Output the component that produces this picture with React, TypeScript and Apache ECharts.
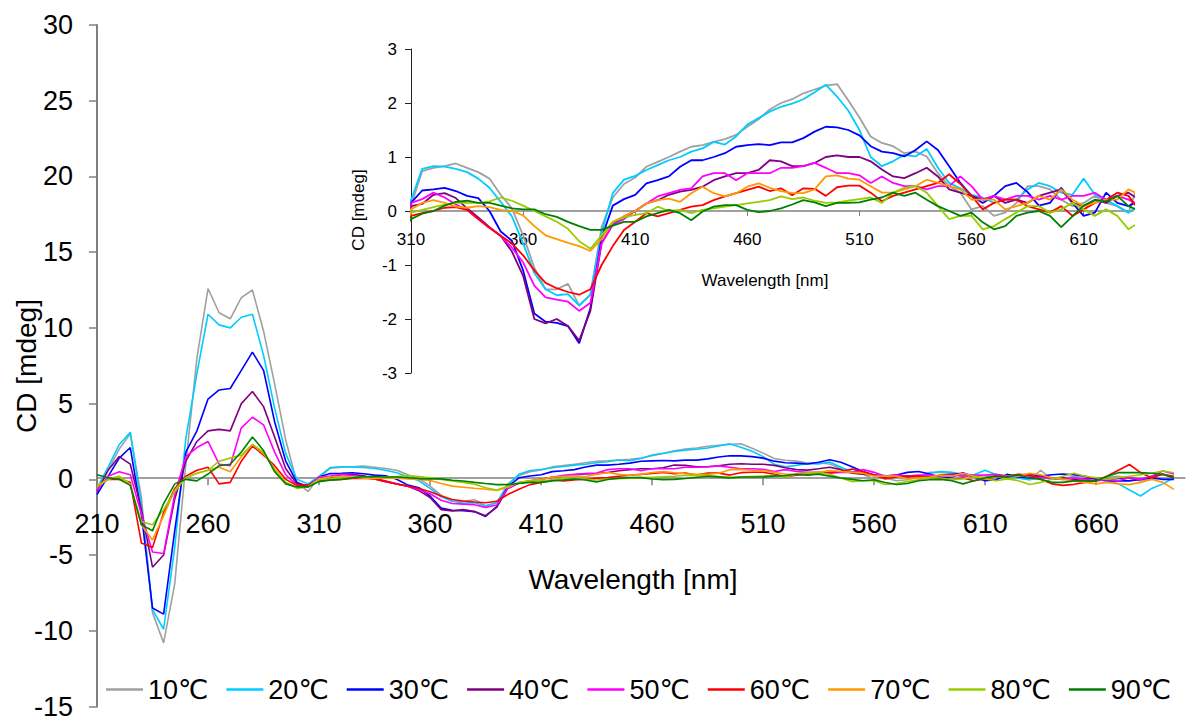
import { useEffect, useRef } from "react";
import * as echarts from "echarts";

const WAVELENGTHS = [
  210, 215, 220, 225, 230, 235, 240, 245, 250, 255, 260, 265, 270, 275, 280, 285, 290, 295, 300, 305,
  310, 315, 320, 325, 330, 335, 340, 345, 350, 355, 360, 365, 370, 375, 380, 385, 390, 395, 400, 405,
  410, 415, 420, 425, 430, 435, 440, 445, 450, 455, 460, 465, 470, 475, 480, 485, 490, 495, 500, 505,
  510, 515, 520, 525, 530, 535, 540, 545, 550, 555, 560, 565, 570, 575, 580, 585, 590, 595, 600, 605,
  610, 615, 620, 625, 630,
  635, 640, 645, 650, 655, 660, 665, 670, 675, 680, 685, 690, 695,
];

const NAMES = ["10℃", "20℃", "30℃", "40℃", "50℃", "60℃", "70℃", "80℃", "90℃"];
const COLORS = ["#A0A0A0", "#00CCFF", "#0000FF", "#800080", "#FF00FF", "#FF0000", "#FF9900", "#99CC00", "#008000"];

const MAIN_X_TICKS = [210, 260, 310, 360, 410, 460, 510, 560, 610, 660];
const INSET_X_TICKS = [310, 360, 410, 460, 510, 560, 610];

const CD_10 = [
  -0.8, 0.6, 2.0, 3.0, -1.2, -8.8, -10.8, -6.9, 1.0, 8.0, 12.6, 11.0, 10.6, 12.0, 12.5, 9.8, 6.3, 2.6, -0.2, -0.8,
  0.1, 0.74, 0.8, 0.83, 0.88, 0.8, 0.72, 0.6, 0.3, 0.05, -0.45, -1.05, -1.45, -1.45, -1.35, -1.75, -1.55, -0.3, 0.25, 0.5,
  0.62, 0.82, 0.91, 1.0, 1.1, 1.19, 1.22, 1.28, 1.33, 1.41, 1.56, 1.7, 1.88, 2.0, 2.07, 2.18, 2.25, 2.32, 2.35, 2.05,
  1.73, 1.38, 1.26, 1.2, 1.07, 1.1, 1.01, 0.7, 0.46, 0.34, 0.03, 0.09, -0.09, -0.03, 0.15, 0.46, 0.46, 0.4, 0.21, 0.09,
  0.15, 0.28, 0.15, 0.09, -0.03,
  0.6, 0.0, 0.05, 0.2, 0.1, 0.0, 0.15, 0.2, 0.05, -0.1, 0.0, 0.1, 0.0,
];
const CD_20 = [
  -0.6, 0.8, 2.3, 3.1, -1.7, -8.6, -9.9, -4.5, 2.7, 7.0, 10.9, 10.2, 10.0, 10.7, 10.9, 8.2, 4.7, 1.7, 0.0, -0.3,
  0.2, 0.78, 0.83, 0.82, 0.78, 0.72, 0.6, 0.43, 0.17, -0.1, -0.6, -1.15, -1.45, -1.56, -1.54, -1.75, -1.55, -0.4, 0.33, 0.58,
  0.65, 0.76, 0.85, 0.94, 1.0, 1.1, 1.16, 1.28, 1.23, 1.38, 1.6, 1.72, 1.84, 1.93, 1.99, 2.07, 2.2, 2.34, 2.12, 1.86,
  1.5, 1.0, 0.83, 0.92, 1.04, 1.01, 1.15, 0.8, 0.52, 0.42, 0.3, 0.25, 0.15, 0.21, 0.21, 0.4, 0.52, 0.46, 0.34, 0.3,
  0.6, 0.3, 0.21, 0.09, -0.03,
  0.1, 0.05, 0.0, 0.1, 0.0, 0.05, 0.0, -0.3, -0.7, -1.1, -0.6, -0.3, 0.1,
];
const CD_30 = [
  -1.0, 0.2, 1.4, 2.1, -2.3, -8.5, -8.9, -3.4, 1.8, 3.2, 5.3, 5.9, 6.0, 7.2, 8.4, 7.2, 3.8, 1.2, -0.2, -0.5,
  0.15, 0.38, 0.4, 0.43, 0.37, 0.28, 0.24, 0.0, -0.38, -0.55, -1.1, -1.9, -2.05, -2.07, -2.13, -2.45, -1.8, -0.5, 0.1, 0.22,
  0.3, 0.51, 0.57, 0.64, 0.82, 0.94, 0.94, 1.0, 1.07, 1.19, 1.22, 1.24, 1.22, 1.27, 1.27, 1.35, 1.47, 1.56, 1.55, 1.5,
  1.4, 1.2, 1.1, 1.07, 1.01, 1.13, 1.29, 1.13, 0.83, 0.52, 0.28, 0.15, 0.28, 0.46, 0.52, 0.35, 0.1, 0.15, 0.43, 0.15,
  -0.09, -0.03, 0.34, 0.15, 0.09,
  0.2, 0.3, 0.35, 0.3, 0.2, 0.0, -0.1, -0.1, -0.1, 0.0, 0.1, 0.0, 0.0,
];
const CD_40 = [
  -0.8, 0.6, 1.5, 1.0, -2.0, -5.8, -5.0, -1.3, 1.2, 2.5, 3.2, 3.3, 3.2, 5.0, 5.8, 4.8, 2.8, 0.7, -0.3, -0.4,
  0.09, 0.13, 0.3, 0.33, 0.24, 0.05, -0.12, -0.3, -0.46, -0.75, -1.2, -2.0, -2.08, -2.0, -2.13, -2.4, -1.85, -0.6, -0.25, -0.1,
  0.0, 0.14, 0.2, 0.3, 0.36, 0.39, 0.45, 0.57, 0.64, 0.7, 0.7, 0.76, 0.94, 0.92, 0.83, 0.83, 0.89, 1.0, 1.03, 1.0,
  1.0, 0.92, 0.77, 0.64, 0.61, 0.7, 0.8, 0.64, 0.4, 0.34, 0.28, 0.21, 0.28, 0.15, 0.21, 0.15, 0.28, 0.34, 0.4, 0.15,
  0.09, 0.21, 0.15, 0.28, 0.34,
  0.2, 0.1, 0.1, 0.0, 0.05, 0.1, 0.0, 0.05, 0.1, 0.0, 0.2, 0.33, 0.1,
];
const CD_50 = [
  -0.7, 0.2, 0.5, 0.3, -2.3, -4.8, -4.9, -1.0, 1.5, 2.1, 2.5, 1.0, 0.9, 3.4, 4.1, 3.6, 1.8, 0.3, -0.4, -0.5,
  0.15, 0.22, 0.34, 0.25, 0.12, 0.02, -0.15, -0.31, -0.46, -0.68, -0.95, -1.38, -1.6, -1.64, -1.68, -1.85, -1.7, -0.6, -0.25, -0.15,
  0.0, 0.14, 0.27, 0.33, 0.39, 0.42, 0.64, 0.7, 0.7, 0.57, 0.7, 0.7, 0.7, 0.8, 0.8, 0.83, 0.89, 0.8, 0.7, 0.7,
  0.66, 0.52, 0.64, 0.52, 0.46, 0.46, 0.4, 0.46, 0.46, 0.64, 0.46, 0.21, 0.28, 0.21, 0.28, 0.28, 0.21, 0.28, 0.21, 0.28,
  0.28, 0.34, 0.21, 0.28, 0.21,
  0.1, 0.05, 0.0, 0.1, 0.0, -0.1, 0.0, -0.1, 0.1, 0.0, 0.2, 0.55, 0.35,
];
const CD_60 = [
  -0.5, 0.0, 0.0, -0.2, -4.2, -4.5, -2.2, -0.6, 0.2, 0.6, 0.8, -0.3, -0.2, 1.2, 2.2, 1.6, 0.9, 0.0, -0.4, -0.4,
  -0.09, -0.04, 0.0, 0.06, 0.07, 0.02, -0.15, -0.31, -0.46, -0.6, -0.82, -1.1, -1.33, -1.43, -1.5, -1.55, -1.45, -1.0, -0.65, -0.35,
  -0.2, -0.04, -0.1, -0.04, 0.02, 0.08, 0.11, 0.2, 0.27, 0.33, 0.39, 0.45, 0.37, 0.42, 0.29, 0.42, 0.41, 0.28, 0.44, 0.47,
  0.47, 0.34, 0.18, 0.28, 0.34, 0.4, 0.46, 0.52, 0.68, 0.5, 0.28, 0.03, 0.15, 0.21, 0.21, 0.09, 0.03, -0.03, 0.09, -0.09,
  0.03, 0.15, 0.21, 0.34, 0.28,
  0.0, -0.3, -0.4, -0.33, -0.2, -0.1, 0.22, 0.6, 0.98, 0.44, 0.11, 0.33, 0.2,
];
const CD_70 = [
  -0.5, 0.0, 0.2, -0.3, -3.0, -4.0, -2.4, -0.7, 0.1, 0.4, 0.6, 0.8, 0.5, 1.5, 2.3, 1.7, 0.7, -0.2, -0.5, -0.5,
  0.03, 0.15, 0.2, 0.15, 0.08, 0.06, 0.09, 0.07, 0.02, 0.0, -0.08, -0.28, -0.45, -0.52, -0.59, -0.65, -0.74, -0.52, -0.2, -0.1,
  0.0, 0.14, 0.2, 0.23, 0.17, 0.33, 0.45, 0.33, 0.27, 0.33, 0.45, 0.51, 0.43, 0.37, 0.33, 0.33, 0.4, 0.64, 0.66, 0.6,
  0.58, 0.46, 0.34, 0.34, 0.4, 0.46, 0.58, 0.52, 0.46, 0.4, 0.21, 0.21, 0.21, 0.03, 0.09, 0.15, 0.28, 0.21, 0.4, 0.21,
  0.09, 0.15, 0.21, 0.21, 0.4,
  0.3, 0.1, 0.0, -0.1, -0.2, -0.3, -0.2, -0.3, -0.35, -0.2, 0.0, -0.2, -0.66,
];
const CD_80 = [
  -0.4, 0.0, 0.2, -0.4, -2.8, -3.0, -2.0, -0.8, 0.1, 0.4, 0.6, 1.2, 1.4, 1.6, 2.3, 1.8, 0.6, -0.2, -0.6, -0.5,
  -0.03, 0.02, 0.07, 0.12, 0.15, 0.15, 0.15, 0.18, 0.25, 0.19, 0.1, 0.0, -0.1, -0.2, -0.33, -0.56, -0.7, -0.45, -0.2, -0.12,
  -0.07, -0.04, 0.08, 0.0, 0.02, -0.04, 0.02, 0.05, 0.08, 0.11, 0.14, 0.17, 0.2, 0.27, 0.22, 0.25, 0.19, 0.15, 0.16, 0.19,
  0.22, 0.25, 0.15, 0.34, 0.43, 0.46, 0.34, 0.09, -0.15, -0.09, -0.09, -0.34, -0.28, -0.15, -0.03, 0.09, 0.09, -0.03, 0.03, 0.15,
  0.03, -0.09, 0.03, -0.09, -0.34,
  -0.2, 0.0, 0.2, 0.4, 0.2, 0.1, 0.0, 0.1, 0.2, 0.3, 0.4, 0.55, 0.44,
];
const CD_90 = [
  0.3, 0.1, 0.0, -0.4, -3.0, -3.4, -1.6, -0.3, 0.0, -0.1, 0.35, 0.9, 1.0, 1.8, 2.8, 1.9, 0.5, -0.3, -0.5, -0.5,
  -0.15, -0.05, 0.0, 0.1, 0.17, 0.19, 0.15, 0.15, 0.1, 0.05, 0.03, 0.03, -0.06, -0.11, -0.2, -0.28, -0.35, -0.35, -0.27, -0.2,
  -0.2, -0.1, -0.04, 0.02, -0.04, -0.17, -0.01, 0.08, 0.11, 0.11, 0.02, -0.02, 0.0, 0.05, 0.12, 0.2, 0.16, 0.09, 0.15, 0.15,
  0.16, 0.21, 0.25, 0.34, 0.28, 0.34, 0.21, 0.09, 0.0, -0.09, -0.03, -0.21, -0.34, -0.28, -0.09, -0.03, 0.0, -0.09, -0.3, -0.1,
  0.1, 0.2, 0.18, 0.28, 0.09,
  0.0, -0.2, -0.2, -0.1, -0.1, -0.1, 0.2, 0.44, 0.44, 0.44, 0.4, 0.33, 0.11,
];

const SERIES_VALUES = [CD_10, CD_20, CD_30, CD_40, CD_50, CD_60, CD_70, CD_80, CD_90];

const FONT = "'Liberation Sans', Arial, 'DejaVu Sans', sans-serif";

// grid geometry (pixels)
const MAIN_GRID = { left: 97, top: 25, width: 1088, height: 685 };
const INSET_GRID = { left: 411, top: 49, width: 722, height: 324 };
const MAIN_Y = { min: -15, max: 30 };
const INSET_Y = { min: -3, max: 3 };

export default function App() {
  const ref = useRef<HTMLDivElement>(null);

  useEffect(() => {
    if (!ref.current) return;
    const chart = echarts.init(ref.current, null, { renderer: "svg" });

    // distance from the grid's bottom edge up to the y = 0 line, so the x axes sit on zero
    const mainZeroOffset = -(MAIN_GRID.height * (0 - MAIN_Y.min)) / (MAIN_Y.max - MAIN_Y.min);
    const insetZeroOffset = -(INSET_GRID.height * (0 - INSET_Y.min)) / (INSET_Y.max - INSET_Y.min);

    const mainSeries = SERIES_VALUES.map((vals, i) => ({
      name: NAMES[i],
      type: "line",
      xAxisIndex: 0,
      yAxisIndex: 0,
      symbol: "none",
      showSymbol: false,
      clip: true,
      data: vals.map((v, j) => [WAVELENGTHS[j], v]),
      lineStyle: { color: COLORS[i], width: 1.6 },
      itemStyle: { color: COLORS[i] },
      emphasis: { disabled: true },
    }));

    const insetSeries = SERIES_VALUES.map((vals, i) => ({
      name: NAMES[i],
      type: "line",
      xAxisIndex: 1,
      yAxisIndex: 1,
      symbol: "none",
      showSymbol: false,
      clip: true,
      data: vals.map((v, j) => [WAVELENGTHS[j], v]).filter((p) => p[0] <= 635),
      lineStyle: { color: COLORS[i], width: 1.8 },
      itemStyle: { color: COLORS[i] },
      emphasis: { disabled: true },
    }));

    chart.setOption({
      animation: false,
      backgroundColor: "#ffffff",
      textStyle: { fontFamily: FONT },
      grid: [
        { ...MAIN_GRID, containLabel: false },
        { ...INSET_GRID, containLabel: false },
      ],
      xAxis: [
        {
          type: "value",
          gridIndex: 0,
          position: "bottom",
          offset: mainZeroOffset,
          min: 210,
          max: 700,
          axisLine: { show: true, onZero: false, lineStyle: { color: "#808080", width: 1.5 } },
          axisTick: { show: true, length: 7, customValues: MAIN_X_TICKS, lineStyle: { color: "#808080", width: 1.5 } },
          axisLabel: { customValues: MAIN_X_TICKS, fontSize: 27, color: "#000", margin: 32, fontFamily: FONT },
          splitLine: { show: false },
        },
        {
          type: "value",
          gridIndex: 1,
          position: "bottom",
          offset: insetZeroOffset,
          min: 310,
          max: 632,
          axisLine: { show: true, onZero: false, lineStyle: { color: "#808080", width: 1.5 } },
          axisTick: { show: true, length: 5, customValues: INSET_X_TICKS, lineStyle: { color: "#808080", width: 1 } },
          axisLabel: { customValues: INSET_X_TICKS, fontSize: 17, color: "#000", margin: 20, fontFamily: FONT },
          splitLine: { show: false },
        },
      ],
      yAxis: [
        {
          type: "value",
          gridIndex: 0,
          min: MAIN_Y.min,
          max: MAIN_Y.max,
          interval: 5,
          axisLine: { show: true, onZero: false, lineStyle: { color: "#808080", width: 2 } },
          axisTick: { show: true, length: 8, lineStyle: { color: "#808080", width: 1.5 } },
          axisLabel: { fontSize: 27, color: "#000", margin: 24, fontFamily: FONT },
          splitLine: { show: false },
        },
        {
          type: "value",
          gridIndex: 1,
          min: INSET_Y.min,
          max: INSET_Y.max,
          interval: 1,
          axisLine: { show: true, onZero: false, lineStyle: { color: "#222", width: 1 } },
          axisTick: { show: true, length: 6, lineStyle: { color: "#222", width: 1 } },
          axisLabel: { fontSize: 17, color: "#000", margin: 14, fontFamily: FONT },
          splitLine: { show: false },
        },
      ],
      legend: {
        data: NAMES,
        left: 106,
        top: 676,
        width: 1092,
        padding: 0,
        icon: "rect",
        itemWidth: 37,
        itemHeight: 2.5,
        itemGap: 18,
        selectedMode: false,
        textStyle: { fontSize: 27, color: "#000", fontFamily: FONT },
      },
      graphic: [
        {
          type: "text",
          x: 26,
          y: 366,
          rotation: Math.PI / 2,
          style: { text: "CD [mdeg]", font: `28px ${FONT}`, fill: "#000", align: "center", verticalAlign: "middle" },
        },
        {
          type: "text",
          x: 633,
          y: 579,
          style: { text: "Wavelength [nm]", font: `28px ${FONT}`, fill: "#000", align: "center", verticalAlign: "middle" },
        },
        {
          type: "text",
          x: 358,
          y: 210,
          rotation: Math.PI / 2,
          style: { text: "CD [mdeg]", font: `17px ${FONT}`, fill: "#000", align: "center", verticalAlign: "middle" },
        },
        {
          type: "text",
          x: 765,
          y: 280,
          style: { text: "Wavelength [nm]", font: `17px ${FONT}`, fill: "#000", align: "center", verticalAlign: "middle" },
        },
      ],
      series: [...mainSeries, ...insetSeries],
    });

    return () => chart.dispose();
  }, []);

  return <div ref={ref} style={{ position: "fixed", left: 0, top: 0, width: 1198, height: 720 }} />;
}
